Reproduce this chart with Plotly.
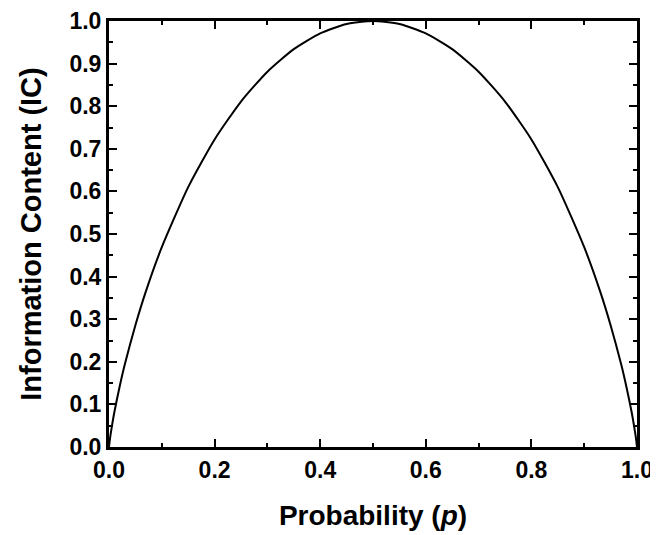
import plotly.graph_objects as go

# Values
prob = [0.0, 0.002, 0.005, 0.01, 0.02, 0.03, 0.05, 0.07, 0.1, 0.15, 0.2, 0.25, 0.3, 0.35, 0.4, 0.45, 0.5,
        0.55, 0.6, 0.65, 0.7, 0.75, 0.8, 0.85, 0.9, 0.93, 0.95, 0.97, 0.98, 0.99, 0.995, 0.998, 1.0]
info = [0.0, 0.021, 0.045, 0.081, 0.141, 0.194, 0.286, 0.366, 0.469, 0.610, 0.722, 0.811, 0.881, 0.934, 0.971, 0.993, 1.0,
        0.993, 0.971, 0.934, 0.881, 0.811, 0.722, 0.610, 0.469, 0.366, 0.286, 0.194, 0.141, 0.081, 0.045, 0.021, 0.0]

x_ticks = [0.0, 0.2, 0.4, 0.6, 0.8, 1.0]
y_ticks = [0.0, 0.1, 0.2, 0.3, 0.4, 0.5, 0.6, 0.7, 0.8, 0.9, 1.0]

fig = go.Figure()
fig.add_trace(go.Scatter(x=prob, y=info, mode="lines", line=dict(color="black", width=2, shape="spline", smoothing=0.6),
                         showlegend=False, hoverinfo="skip"))

font = dict(family="Liberation Sans, Arial, sans-serif", color="black")
axis_common = dict(
    showgrid=False, zeroline=False, showline=True, linecolor="black", linewidth=3,
    mirror="allticks", ticks="inside", ticklen=8, tickwidth=2, tickcolor="black",
    tickfont=dict(size=23, **font), automargin=False, ticklabeloverflow="allow",
)
fig.update_xaxes(range=[0, 1], tickvals=x_ticks, ticktext=[f"<b>{v:.1f}</b>" for v in x_ticks],
                 minor=dict(ticks="inside", ticklen=4, tickwidth=2, tickcolor="black", dtick=0.1),
                 title=dict(text="<b>Probability (<i>p</i>)</b>", font=dict(size=28, **font), standoff=24),
                 **axis_common)
fig.update_yaxes(range=[0, 1], tickvals=y_ticks, ticktext=[f"<b>{v:.1f}</b>" for v in y_ticks],
                 minor=dict(ticks="inside", ticklen=4, tickwidth=2, tickcolor="black", dtick=0.05),
                 title=dict(text="<b>Information Content (IC)</b>", font=dict(size=29, **font), standoff=20),
                 **axis_common)
fig.update_layout(width=650, height=527, margin=dict(l=101, r=21, t=13, b=88),
                  plot_bgcolor="white", paper_bgcolor="white")
fig.write_html("out.html")
